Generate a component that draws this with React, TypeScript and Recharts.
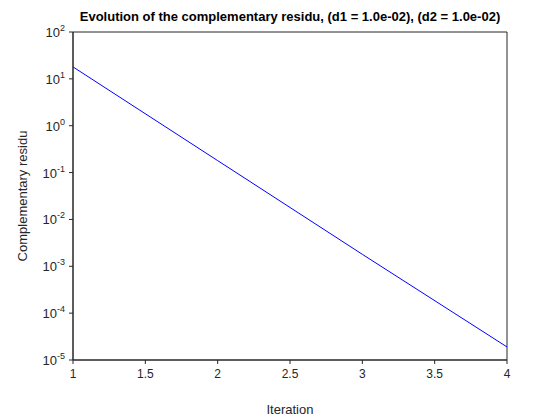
import { LineChart, Line, XAxis, YAxis, ReferenceArea } from 'recharts';

const iterations = [1, 2, 3, 4];
const residu = [18, 0.18, 0.0018, 1.9e-5];
const xTicks = [1, 1.5, 2, 2.5, 3, 3.5, 4];
const yTicks = [1e-5, 1e-4, 1e-3, 1e-2, 1e-1, 1, 10, 100];

const data = iterations.map((it, i) => ({ it, r: residu[i] }));
const FONT = '"Liberation Sans", Arial, sans-serif';

function PowerTick(props: any) {
  const { x, y, payload } = props;
  const exp = Math.round(Math.log10(payload.value));
  return (
    <text x={x - 2} y={y + 5} textAnchor="end" fontSize={13} fill="#262626" fontFamily={FONT}>
      10<tspan dy={-6} fontSize={9}>{exp}</tspan>
    </text>
  );
}

export default function App() {
  return (
    <div style={{ position: 'absolute', left: 0, top: 0, width: 560, height: 420, background: '#fff' }}>
      <div
        style={{
          position: 'absolute', top: 9, left: 73, width: 434, textAlign: 'center',
          fontFamily: FONT, fontWeight: 'bold', fontSize: 13, color: '#000', whiteSpace: 'nowrap',
        }}
      >
        Evolution of the complementary residu, (d1 = 1.0e-02), (d2 = 1.0e-02)
      </div>
      <LineChart width={560} height={420} data={data} margin={{ top: 32, right: 53, left: 0, bottom: 0 }}>
        <XAxis
          dataKey="it" type="number" domain={[1, 4]} ticks={xTicks} height={60}
          stroke="#262626" tickSize={4}
          tick={{ fill: '#262626', fontSize: 12, fontFamily: FONT, dy: 3 }}
          label={{ value: 'Iteration', position: 'insideBottom', offset: 6, fill: '#262626', fontSize: 13, fontFamily: FONT }}
        />
        <YAxis
          dataKey="r" scale="log" domain={[1e-5, 100]} ticks={yTicks} width={73}
          stroke="#262626" tickSize={4} tick={<PowerTick />} allowDataOverflow
          label={{ value: 'Complementary residu', angle: -90, position: 'insideLeft', offset: 22, style: { textAnchor: 'middle' }, fill: '#262626', fontSize: 13, fontFamily: FONT }}
        />
        <ReferenceArea x1={1} x2={4} y1={1e-5} y2={100} fill="none" stroke="#262626" strokeWidth={1} ifOverflow="visible" />
        <Line dataKey="r" stroke="#0000ff" strokeWidth={1} dot={false} isAnimationActive={false} />
      </LineChart>
    </div>
  );
}
